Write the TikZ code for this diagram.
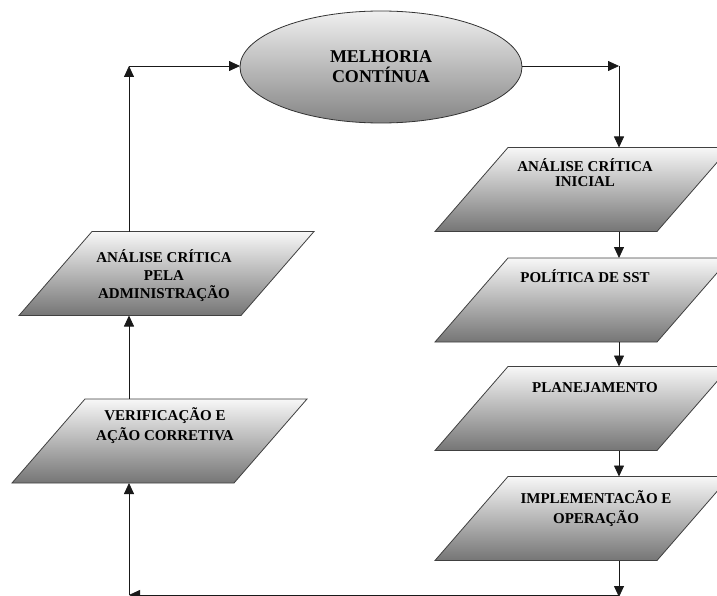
\documentclass[tikz,border=0pt]{standalone}
\usepackage{fontspec}
\setmainfont{Liberation Serif}
\usetikzlibrary{shapes.geometric,arrows.meta}
% shaded parallelogram around a (rectangular) step node, slanted to the right
\newcommand\stepshape[1]{%
  \path[stepfill] ([xshift=-36.5pt]#1.south west) -- ([xshift=-36.5pt]#1.south east)
    -- ([xshift=36.5pt]#1.north east) -- ([xshift=36.5pt]#1.north west) -- cycle;}
\begin{document}
\begin{tikzpicture}[x=1pt,y=-1pt,
  every node/.style={inner sep=0pt,outer sep=0pt},
  stepbox/.style={rectangle, minimum width=222pt, minimum height=84pt},
  stepfill/.style={draw=black!75, line width=0.8pt, top color=black!3, bottom color=black!54},
  loopnode/.style={ellipse, minimum width=282pt, minimum height=112pt,
    draw=black!80, line width=0.8pt, top color=black!6, bottom color=black!48,
    font=\fontsize{18}{20}\selectfont\bfseries, align=center},
  boxtext/.style={font=\fontsize{15}{18}\selectfont\bfseries, align=center, anchor=base},
  flow/.style={draw=black!90, line width=0.8pt, -{Triangle[length=11pt,width=10pt]}}
]
\useasboundingbox (0,0) rectangle (717,596);
\clip (0,0) rectangle (717,596);

% central ellipse
\node[loopnode] (mc) at (381,67) {MELHORIA\\CONTÍNUA};

% right column of steps
\node[stepbox] (r1) at (582.5,189.5) {};
\node[stepbox] (r2) at (582.5,300) {};
\node[stepbox] (r3) at (582.5,408.5) {};
\node[stepbox] (r4) at (582.5,518.5) {};

% left column of steps
\node[stepbox] (l1) at (166.5,273.5) {};
\node[stepbox] (l2) at (159.5,441) {};

\stepshape{r1}\stepshape{r2}\stepshape{r3}\stepshape{r4}
\stepshape{l1}\stepshape{l2}

% step texts (anchored at the baseline of their last line)
\node[boxtext] (tr1) at (585,187) {ANÁLISE CRÍTICA\\[-3pt]INICIAL};
\node[boxtext] (tr2) at (585,282) {POLÍTICA DE SST};
\node[boxtext] (tr3) at (595,392) {PLANEJAMENTO};
\node[boxtext] (tr4) at (596,523) {IMPLEMENTACÃO E\\[2pt]OPERAÇÃO};
\node[boxtext] (tl1) at (164,298) {ANÁLISE CRÍTICA\\PELA\\ADMINISTRAÇÃO};
\node[boxtext] (tl2) at (165,440) {VERIFICAÇÃO E\\[2pt]AÇÃO CORRETIVA};

% corner points of the loop
\coordinate (cL) at (129,66);
\coordinate (cR) at (619,66);
\coordinate (bL) at (129,595);
\coordinate (bR) at (619,597);

% connectors
\draw[flow] (l1.north -| cL) -- (cL);
\draw[flow] (cL) -- (mc.west |- cL);
\draw[flow] (mc.east |- cR) -- (cR);
\draw[flow] (cR) -- (r1.north -| cR);
\draw[flow] (r1.south -| cR) -- (r2.north -| cR);
\draw[flow] (r2.south -| cR) -- (r3.north -| cR);
\draw[flow] (r3.south -| cR) -- (r4.north -| cR);
\draw[flow] (r4.south -| cR) -- (bR);
\draw[flow] (bR |- bL) -- (bL);
\draw[flow] (bL) -- (l2.south -| bL);
\draw[flow] (l2.north -| bL) -- (l1.south -| bL);
\end{tikzpicture}
\end{document}
